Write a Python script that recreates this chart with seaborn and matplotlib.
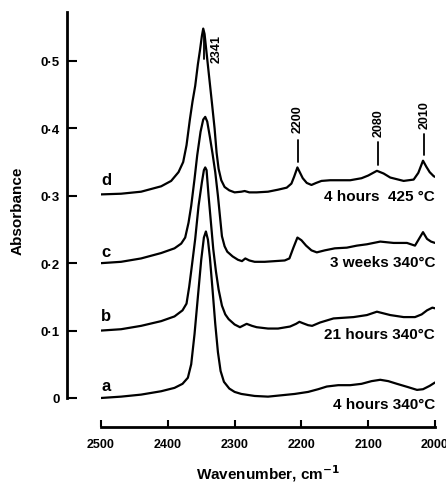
import numpy as np
import pandas as pd
import matplotlib
matplotlib.use("Agg")
import matplotlib.pyplot as plt
import seaborn as sns

# ---- data ----
wn_a = [2500, 2470, 2440, 2410, 2390, 2378, 2370, 2365, 2360, 2355, 2350, 2346, 2343, 2340,
        2337, 2333, 2329, 2325, 2321, 2316, 2308, 2300, 2290, 2270, 2250, 2230, 2210, 2190,
        2175, 2162, 2145, 2127, 2110, 2095, 2082, 2070, 2057, 2040, 2027, 2018, 2008, 2000]
abs_a = [0.000, 0.002, 0.005, 0.010, 0.015, 0.021, 0.030, 0.050, 0.095, 0.150, 0.205, 0.238,
         0.247, 0.235, 0.208, 0.160, 0.110, 0.068, 0.040, 0.024, 0.014, 0.009, 0.006, 0.003,
         0.002, 0.004, 0.006, 0.009, 0.013, 0.017, 0.019, 0.019, 0.021, 0.025, 0.027, 0.025,
         0.021, 0.016, 0.012, 0.013, 0.018, 0.023]

wn_b = [2500, 2470, 2440, 2410, 2390, 2378, 2372, 2368, 2364, 2359, 2354, 2349, 2346, 2344,
        2342, 2339, 2335, 2332, 2328, 2324, 2319, 2314, 2309, 2300, 2292, 2282, 2274, 2267,
        2250, 2235, 2217, 2208, 2203, 2198, 2190, 2184, 2172, 2152, 2122, 2102, 2087, 2067,
        2047, 2030, 2020, 2012, 2004, 2000]
abs_b = [0.100, 0.102, 0.107, 0.114, 0.121, 0.130, 0.140, 0.165, 0.196, 0.236, 0.285, 0.320,
         0.338, 0.342, 0.338, 0.300, 0.255, 0.221, 0.188, 0.161, 0.137, 0.124, 0.117, 0.109,
         0.105, 0.110, 0.107, 0.105, 0.103, 0.103, 0.106, 0.110, 0.113, 0.111, 0.108, 0.107,
         0.112, 0.118, 0.120, 0.123, 0.128, 0.123, 0.120, 0.120, 0.124, 0.130, 0.134, 0.133]

wn_c = [2500, 2470, 2440, 2410, 2390, 2380, 2374, 2369, 2365, 2360, 2356, 2351, 2347, 2344,
        2341, 2337, 2333, 2329, 2325, 2322, 2319, 2315, 2311, 2303, 2295, 2289, 2284, 2278,
        2270, 2255, 2240, 2225, 2218, 2212, 2206, 2200, 2193, 2185, 2177, 2165, 2150, 2132,
        2117, 2102, 2082, 2062, 2042, 2030, 2024, 2018, 2012, 2006, 2000]
abs_c = [0.200, 0.202, 0.207, 0.215, 0.222, 0.229, 0.238, 0.260, 0.285, 0.325, 0.360, 0.395,
         0.413, 0.417, 0.410, 0.387, 0.362, 0.335, 0.300, 0.270, 0.240, 0.225, 0.217, 0.210,
         0.205, 0.203, 0.207, 0.204, 0.202, 0.202, 0.203, 0.204, 0.207, 0.223, 0.238, 0.234,
         0.226, 0.219, 0.216, 0.219, 0.222, 0.223, 0.226, 0.228, 0.232, 0.230, 0.230, 0.226,
         0.236, 0.246, 0.236, 0.232, 0.230]

wn_d = [2500, 2470, 2440, 2410, 2395, 2384, 2377, 2372, 2367, 2363, 2359, 2355, 2352, 2349,
        2347, 2345, 2342, 2338, 2334, 2330, 2327, 2324, 2320, 2315, 2308, 2300, 2290, 2285,
        2278, 2267, 2250, 2235, 2222, 2215, 2211, 2206, 2202, 2198, 2192, 2185, 2178, 2170,
        2157, 2127, 2110, 2100, 2087, 2077, 2067, 2047, 2032, 2025, 2018, 2013, 2008, 2002, 2000]
abs_d = [0.302, 0.303, 0.306, 0.314, 0.322, 0.335, 0.350, 0.375, 0.413, 0.440, 0.463, 0.495,
         0.515, 0.537, 0.548, 0.540, 0.512, 0.475, 0.438, 0.400, 0.364, 0.340, 0.323, 0.313,
         0.308, 0.305, 0.306, 0.307, 0.305, 0.305, 0.306, 0.309, 0.312, 0.318, 0.328, 0.342,
         0.334, 0.326, 0.319, 0.316, 0.319, 0.322, 0.323, 0.323, 0.326, 0.330, 0.337, 0.333,
         0.327, 0.322, 0.324, 0.334, 0.352, 0.343, 0.335, 0.329, 0.328]

curve_letters = ["a", "b", "c", "d"]
curve_letter_y = [0.018, 0.122, 0.218, 0.324]
conditions = ["4 hours 340°C", "21 hours 340°C", "3 weeks 340°C", "4 hours  425 °C"]
condition_y = [-0.009, 0.095, 0.201, 0.300]

peak_labels = ["2341", "2200", "2080", "2010"]
peak_marker_x = [2346, 2205, 2085, 2016]
peak_marker_y0 = [0.503, 0.350, 0.345, 0.360]
peak_marker_y1 = [0.540, 0.383, 0.380, 0.391]
peak_label_x = [2327, 2205, 2085, 2016]
peak_label_y = [0.499, 0.394, 0.388, 0.401]

x_ticks = [2500, 2400, 2300, 2200, 2100, 2000]
y_ticks = [0, 0.1, 0.2, 0.3, 0.4, 0.5]
y_ticklabels = ["0", "0·1", "0·2", "0·3", "0·4", "0·5"]

# ---- build long table ----
frames = []
for name, wn, ab in [("a", wn_a, abs_a), ("b", wn_b, abs_b), ("c", wn_c, abs_c), ("d", wn_d, abs_d)]:
    frames.append(pd.DataFrame({"wavenumber": wn, "absorbance": ab, "curve": name}))
df = pd.concat(frames, ignore_index=True)

sns.set_theme(style="ticks")
plt.rcParams["font.family"] = ["Liberation Sans", "DejaVu Sans"]
plt.rcParams["font.weight"] = "bold"
for k in ["text.color", "axes.labelcolor", "xtick.color", "ytick.color", "axes.edgecolor"]:
    plt.rcParams[k] = "black"

fig = plt.figure(figsize=(4.46, 4.85), dpi=100)
ax = fig.add_axes([0.2265, 0.1565, 0.7489, 0.8173])

sns.lineplot(data=df, x="wavenumber", y="absorbance", units="curve", estimator=None,
             sort=False, color="black", linewidth=1.6, ax=ax, legend=False)

ax.set_xlim(2500, 2000)
ax.set_ylim(-0.015, 0.573)

for sp in ["top", "right"]:
    ax.spines[sp].set_visible(False)
ax.spines["left"].set_position(("outward", 24.5))
ax.spines["bottom"].set_position(("outward", 13.6))
ax.spines["left"].set_bounds(0, 0.573)
ax.spines["bottom"].set_bounds(2500, 2000)
ax.spines["left"].set_linewidth(2.0)
ax.spines["bottom"].set_linewidth(2.0)

ax.set_xticks(x_ticks)
ax.set_xticklabels([str(t) for t in x_ticks], fontsize=9, fontweight="bold")
ax.set_yticks(y_ticks)
ax.set_yticklabels(y_ticklabels, fontsize=9.5, fontweight="bold")
ax.tick_params(axis="x", direction="in", length=5, width=1.5, pad=8)
ax.tick_params(axis="y", direction="in", length=7, width=1.5, pad=5)

ax.set_xlabel("Wavenumber, cm$^{\\mathbf{-1}}$", fontsize=11, fontweight="bold", labelpad=9)
ax.set_ylabel("Absorbance", fontsize=11, fontweight="bold", labelpad=12)

for letter, y in zip(curve_letters, curve_letter_y):
    ax.text(2500, y, letter, fontsize=12, fontweight="bold", ha="left", va="center")
for cond, y in zip(conditions, condition_y):
    ax.text(2000, y, cond, fontsize=11, fontweight="bold", ha="right", va="center")

for lab, mx, y0, y1, lx, ly in zip(peak_labels, peak_marker_x, peak_marker_y0, peak_marker_y1,
                                   peak_label_x, peak_label_y):
    ax.plot([mx, mx], [y0, y1], color="black", linewidth=1.3)
    ax.text(lx, ly, lab, rotation=90, fontsize=9, fontweight="bold", ha="center", va="bottom")

fig.savefig("out.png", dpi=100)
